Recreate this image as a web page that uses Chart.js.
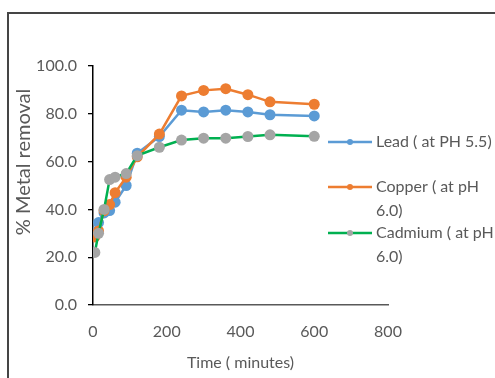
<!DOCTYPE html>
<html>
<head>
<meta charset="utf-8">
<script src="https://cdn.jsdelivr.net/npm/chart.js@4/dist/chart.umd.min.js"></script>
<style>
  html, body { margin: 0; padding: 0; background: #fff; }
  #wrap { position: relative; width: 495px; height: 378px; overflow: hidden; }
  #frame { position: absolute; left: 7px; top: 12px; width: 600px; height: 600px;
           border-left: 2px solid #454545; border-top: 2px solid #454545; }
  #myChart { position: absolute; left: 0; top: 0; }
</style>
</head>
<body>
<div id="wrap">
  <div id="frame"></div>
  <canvas id="myChart" width="495" height="378"></canvas>
</div>
<script>
   // sampling times (minutes) and % removal for each metal
   var times = [5, 15, 30, 45, 60, 90, 120, 180, 240, 300, 360, 420, 480, 600];
   var lead = [30.5, 34.5, 38.5, 39.5, 43, 50, 63.5, 70.5, 81.5, 80.8, 81.5, 80.8, 79.6, 79.1];
   var copper = [28.5, 31, 39.5, 42, 47, 53.5, 62, 71.5, 87.5, 89.8, 90.5, 88, 85, 84];
   var cadmium = [22, 30, 40, 52.5, 53.5, 55, 62.5, 66, 69, 69.8, 69.8, 70.5, 71.2, 70.6];
   var names = [['Lead ( at PH 5.5)'], ['Copper ( at pH', '6.0)'], ['Cadmium ( at pH', '6.0)']];
   var yTicks = [0, 20, 40, 60, 80, 100];
   var xTicks = [0, 200, 400, 600, 800];
   var yTitle = '% Metal removal';

   var FONT = 'Lato, "Open Sans", sans-serif';
   var GREY_TEXT = '#595959';

   function toPoints(values) {
       return times.map(function(t, i) { return { x: t, y: values[i] }; });
   }

   // legend to the right of the plot (wrapped labels) and the y title
   var sideLegend = {
       id: 'sideLegend',
       afterDraw: function(chart) {
           var ctx = chart.ctx;
           var x0 = chart.chartArea.right - 60;
           var rows = [142, 187, 233];
           ctx.save();
           ctx.font = '16px ' + FONT;
           ctx.textBaseline = 'middle';
           chart.data.datasets.forEach(function(ds, i) {
               var y = rows[i];
               ctx.strokeStyle = ds.borderColor;
               ctx.lineWidth = 2.5;
               ctx.beginPath();
               ctx.moveTo(x0, y);
               ctx.lineTo(x0 + 44, y);
               ctx.stroke();
               ctx.fillStyle = ds.pointBackgroundColor;
               ctx.beginPath();
               ctx.arc(x0 + 22, y, 3, 0, Math.PI * 2);
               ctx.fill();
               ctx.fillStyle = GREY_TEXT;
               names[i].forEach(function(line, j) {
                   ctx.fillText(line, x0 + 48, y + j * 24);
               });
           });

           ctx.translate(24, 162);
           ctx.rotate(-Math.PI / 2);
           ctx.textAlign = 'center';
           ctx.font = '20px ' + FONT;
           ctx.fillText(yTitle, 0, 0);
           ctx.restore();
       }
   };

   var ctx = document.getElementById('myChart').getContext('2d');
   var chart = new Chart(ctx, {
       type: 'line',
       data: {
           datasets: [{
               label: names[0].join(' '),
               data: toPoints(lead),
               borderColor: '#5B9BD5',
               pointBackgroundColor: '#5B9BD5',
               order: 3
           }, {
               label: names[1].join(' '),
               data: toPoints(copper),
               borderColor: '#ED7D31',
               pointBackgroundColor: '#ED7D31',
               order: 2
           }, {
               label: names[2].join(' '),
               data: toPoints(cadmium),
               borderColor: '#00B050',
               pointBackgroundColor: '#A5A5A5',
               order: 1
           }]
       },
       options: {
           responsive: false,
           animation: false,
           layout: { padding: { top: 66, right: 107, left: 0, bottom: 0 } },
           elements: {
               line: { borderWidth: 2.5, tension: 0 },
               point: { radius: 5.5, hoverRadius: 5.5, borderWidth: 0 }
           },
           plugins: {
               legend: { display: false },
               tooltip: { enabled: false }
           },
           scales: {
               x: {
                   type: 'linear',
                   min: 0, max: 800,
                   afterFit: function(s) { s.height = 73; },
                   afterBuildTicks: function(s) { s.ticks = xTicks.map(function(v) { return { value: v }; }); },
                   grid: { display: false, drawTicks: false },
                   border: { display: true, color: '#595959', width: 1.5 },
                   ticks: { padding: 17, color: GREY_TEXT, font: { family: FONT, size: 16 } },
                   title: {
                       display: true, text: 'Time ( minutes)', color: GREY_TEXT,
                       font: { family: FONT, size: 16 }, padding: { top: 0, bottom: 5.5 }
                   }
               },
               y: {
                   min: 0, max: 100,
                   afterFit: function(s) { s.width = 93; },
                   afterBuildTicks: function(s) { s.ticks = yTicks.map(function(v) { return { value: v }; }); },
                   grid: { drawOnChartArea: false, drawTicks: true, tickLength: 5, color: '#000', lineWidth: 1.3 },
                   border: { display: true, color: '#000', width: 1.5 },
                   ticks: {
                       padding: 11, color: GREY_TEXT, font: { family: FONT, size: 16 },
                       callback: function(v) { return v.toFixed(1); }
                   }
               }
           }
       },
       plugins: [sideLegend]
   });
</script>
</body>
</html>
